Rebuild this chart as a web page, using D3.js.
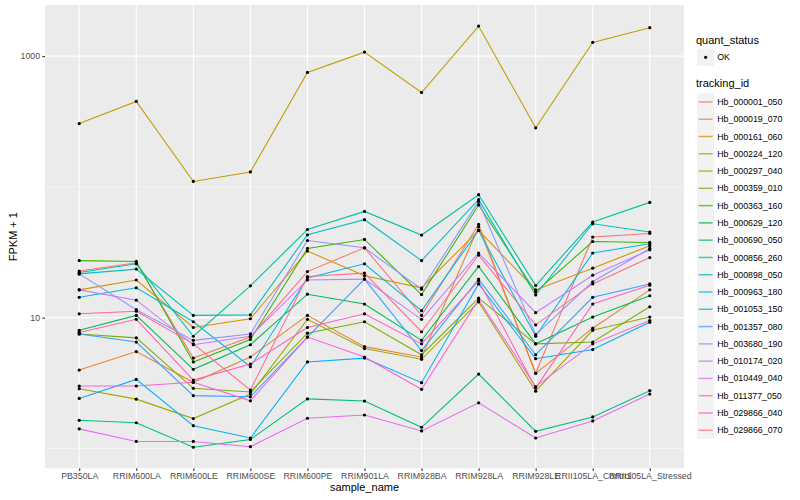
<!DOCTYPE html>
<html>
<head>
<meta charset="utf-8">
<title>FPKM expression plot</title>
<script src="https://d3js.org/d3.v7.min.js"></script>
<style>
body, html { margin: 0; padding: 0; background: #fff; }
svg { display: block; font-family: "Liberation Sans", Arial, Helvetica, sans-serif; }
</style>
</head>
<body>
<svg id="chart" width="800" height="500"></svg>
<script>

// samples on the x axis
const samples = ["PB350LA", "RRIM600LA", "RRIM600LE", "RRIM600SE", "RRIM600PE", "RRIM901LA",
                 "RRIM928BA", "RRIM928LA", "RRIM928LE", "RRII105LA_Control", "RRII105LA_Stressed"];

// FPKM + 1, one array per gene, in sample order
const Hb_000001_050 = [22.7, 26.3, 4.9, 7.1, 22.5, 34.2, 10.4, 51.6, 3.75, 41.3, 44.0];
const Hb_000019_070 = [3.97, 5.5, 3.2, 5.0, 10.4, 6.0, 5.0, 49.5, 3.75, 8.3, 16.3];
const Hb_000161_060 = [16.3, 19.4, 8.4, 9.8, 32.3, 20.9, 16.9, 46.4, 16.3, 23.9, 35.4];
const Hb_000224_120 = [305, 450, 110, 130, 750, 1073, 527, 1698, 283, 1274, 1650];
const Hb_000297_040 = [2.86, 2.38, 1.69, 2.6, 9.7, 5.8, 4.8, 13.2, 2.74, 8.0, 10.1];
const Hb_000359_010 = [7.5, 7.0, 2.88, 2.7, 7.6, 9.3, 5.2, 14.1, 6.3, 6.5, 12.1];
const Hb_000363_160 = [27.3, 26.9, 4.58, 6.8, 33.8, 39.6, 15.0, 72.7, 15.7, 38.2, 37.6];
const Hb_000629_120 = [8.0, 10.4, 4.02, 6.2, 15.1, 12.7, 6.7, 24.6, 6.3, 10.1, 14.7];
const Hb_000690_050 = [1.64, 1.57, 1.02, 1.17, 2.39, 2.3, 1.45, 3.7, 1.35, 1.74, 2.76];
const Hb_000856_260 = [22.1, 25.8, 7.2, 17.5, 47.2, 64.9, 42.8, 87.1, 17.6, 53.8, 76.1];
const Hb_000898_050 = [21.6, 23.5, 10.4, 10.5, 43.0, 56.1, 27.3, 79.8, 14.9, 52.2, 45.1];
const Hb_000963_180 = [14.3, 16.9, 9.3, 4.21, 20.1, 25.8, 11.3, 46.4, 7.2, 31.2, 36.7];
const Hb_001053_150 = [2.41, 3.37, 1.49, 1.2, 4.58, 4.9, 3.18, 18.1, 4.85, 5.7, 9.2];
const Hb_001357_080 = [7.5, 6.5, 2.53, 2.48, 7.1, 19.7, 5.6, 19.7, 5.2, 14.3, 18.1];
const Hb_003680_190 = [21.6, 11.5, 6.7, 7.5, 38.9, 34.2, 16.5, 77.0, 7.4, 18.8, 33.8];
const Hb_010174_020 = [16.3, 13.6, 6.2, 7.2, 19.4, 19.7, 9.7, 31.2, 10.9, 21.1, 33.0];
const Hb_010449_040 = [1.41, 1.13, 1.13, 1.03, 1.7, 1.8, 1.36, 2.23, 1.2, 1.62, 2.6];
const Hb_011377_050 = [3.0, 3.0, 3.2, 2.31, 7.1, 5.0, 2.83, 13.7, 2.97, 6.3, 9.5];
const Hb_029866_040 = [7.7, 9.7, 3.33, 4.42, 8.4, 10.7, 6.3, 19.1, 2.89, 12.7, 17.7];
const Hb_029866_070 = [10.7, 11.2, 6.3, 2.79, 20.6, 21.9, 7.8, 30.1, 8.8, 18.1, 28.8];

const trackingIds = ["Hb_000001_050", "Hb_000019_070", "Hb_000161_060", "Hb_000224_120", "Hb_000297_040",
                     "Hb_000359_010", "Hb_000363_160", "Hb_000629_120", "Hb_000690_050", "Hb_000856_260",
                     "Hb_000898_050", "Hb_000963_180", "Hb_001053_150", "Hb_001357_080", "Hb_003680_190",
                     "Hb_010174_020", "Hb_010449_040", "Hb_011377_050", "Hb_029866_040", "Hb_029866_070"];
const geneValues = [Hb_000001_050, Hb_000019_070, Hb_000161_060, Hb_000224_120, Hb_000297_040,
                    Hb_000359_010, Hb_000363_160, Hb_000629_120, Hb_000690_050, Hb_000856_260,
                    Hb_000898_050, Hb_000963_180, Hb_001053_150, Hb_001357_080, Hb_003680_190,
                    Hb_010174_020, Hb_010449_040, Hb_011377_050, Hb_029866_040, Hb_029866_070];

const quantStatus = ["OK"];
const yTicks = [10, 1000];
const yMinorTicks = [1, 100];

// ggplot default hue palette for 20 levels
const palette = ["#F8766D", "#EA8331", "#D89000", "#C09B00", "#A3A500", "#7CAE00", "#39B600", "#00BB4E",
                 "#00BF7D", "#00C1A3", "#00BFC4", "#00BAE0", "#00B0F6", "#35A2FF", "#9590FF", "#C77CFF",
                 "#E76BF3", "#FA62DB", "#FF62BC", "#FF6C91"];

function main() {
  const svg = d3.select("#chart");
  const panel = { left: 45, right: 684, top: 5, bottom: 468.3 };

  const series = trackingIds.map((id, i) => ({
    id: id,
    points: samples.map((s, j) => ({ sample: s, value: geneValues[i][j] }))
  }));

  const allValues = geneValues.flat();
  const lo = Math.log10(d3.min(allValues));
  const hi = Math.log10(d3.max(allValues));
  const pad = (hi - lo) * 0.05;

  const x = d3.scalePoint()
              .domain(samples)
              .range([panel.left, panel.right])
              .padding(0.6);

  const y = d3.scaleLog()
              .domain([Math.pow(10, lo - pad), Math.pow(10, hi + pad)])
              .range([panel.bottom, panel.top]);

  const color = d3.scaleOrdinal().domain(trackingIds).range(palette);

  // panel
  svg.append("rect")
     .attr("x", panel.left).attr("y", panel.top)
     .attr("width", panel.right - panel.left)
     .attr("height", panel.bottom - panel.top)
     .attr("fill", "#EBEBEB");

  const grid = svg.append("g");
  grid.selectAll(".minor").data(yMinorTicks).enter().append("line")
      .attr("x1", panel.left).attr("x2", panel.right)
      .attr("y1", d => y(d)).attr("y2", d => y(d))
      .attr("stroke", "#fff").attr("stroke-width", 0.53);
  grid.selectAll(".major").data(yTicks).enter().append("line")
      .attr("x1", panel.left).attr("x2", panel.right)
      .attr("y1", d => y(d)).attr("y2", d => y(d))
      .attr("stroke", "#fff").attr("stroke-width", 1.07);
  grid.selectAll(".xmajor").data(samples).enter().append("line")
      .attr("x1", d => x(d)).attr("x2", d => x(d))
      .attr("y1", panel.top).attr("y2", panel.bottom)
      .attr("stroke", "#fff").attr("stroke-width", 1.07);

  // lines then points
  const line = d3.line()
                 .x(d => x(d.sample))
                 .y(d => y(d.value));

  svg.append("g").selectAll("path").data(series).enter().append("path")
     .attr("fill", "none")
     .attr("stroke", d => color(d.id))
     .attr("stroke-width", 1.07)
     .attr("d", d => line(d.points));

  svg.append("g").selectAll("circle").data(series.flatMap(d => d.points)).enter().append("circle")
     .attr("cx", d => x(d.sample))
     .attr("cy", d => y(d.value))
     .attr("r", 1.6)
     .attr("fill", "#000");

  // axes
  const yAxis = d3.axisLeft(y)
                  .tickValues(yTicks)
                  .tickFormat(d3.format("d"))
                  .tickSize(2.75)
                  .tickPadding(2.2);
  const gy = svg.append("g")
     .attr("transform", "translate(" + panel.left + ",0)")
     .call(yAxis);

  const xAxis = d3.axisBottom(x).tickSize(2.75).tickPadding(2.2);
  const gx = svg.append("g")
     .attr("transform", "translate(0," + panel.bottom + ")")
     .call(xAxis);

  [gx, gy].forEach(g => {
    g.select(".domain").remove();
    g.selectAll("line").attr("stroke", "#333333").attr("stroke-width", 1.07);
    g.selectAll("text").attr("fill", "#4D4D4D").style("font-size", "8.8px")
     .style("font-family", "'Liberation Sans', Arial, sans-serif");
  });

  svg.append("text")
     .attr("x", (panel.left + panel.right) / 2)
     .attr("y", 491)
     .attr("text-anchor", "middle")
     .style("font-size", "11px")
     .text("sample_name");

  svg.append("text")
     .attr("transform", "translate(17," + (panel.top + panel.bottom) / 2 + ") rotate(-90)")
     .attr("text-anchor", "middle")
     .style("font-size", "11px")
     .text("FPKM + 1");

  // legends
  const key = 17.28;
  const lx = 697;
  const legend = svg.append("g");

  legend.append("text").attr("x", 696).attr("y", 44)
        .style("font-size", "11px").text("quant_status");

  const q = legend.selectAll(".qkey").data(quantStatus).enter().append("g")
        .attr("transform", (d, i) => "translate(" + lx + "," + (48.7 + i * key) + ")");
  q.append("rect").attr("width", key).attr("height", key).attr("fill", "#F2F2F2");
  q.append("circle").attr("cx", key / 2).attr("cy", key / 2).attr("r", 1.6).attr("fill", "#000");
  q.append("text").attr("x", key + 3).attr("y", key / 2).attr("dy", "0.35em")
   .style("font-size", "8.8px").text(d => d);

  legend.append("text").attr("x", 696).attr("y", 87)
        .style("font-size", "11px").text("tracking_id");

  const t = legend.selectAll(".tkey").data(trackingIds).enter().append("g")
        .attr("transform", (d, i) => "translate(" + lx + "," + (93.3 + i * key) + ")");
  t.append("rect").attr("width", key).attr("height", key).attr("fill", "#F2F2F2");
  t.append("line").attr("x1", 1.7).attr("x2", key - 1.7)
   .attr("y1", key / 2).attr("y2", key / 2)
   .attr("stroke", d => color(d)).attr("stroke-width", 1.5).attr("opacity", 0.75);
  t.append("text").attr("x", key + 3).attr("y", key / 2).attr("dy", "0.35em")
   .style("font-size", "8.8px").text(d => d);
}

main();

</script>
</body>
</html>
